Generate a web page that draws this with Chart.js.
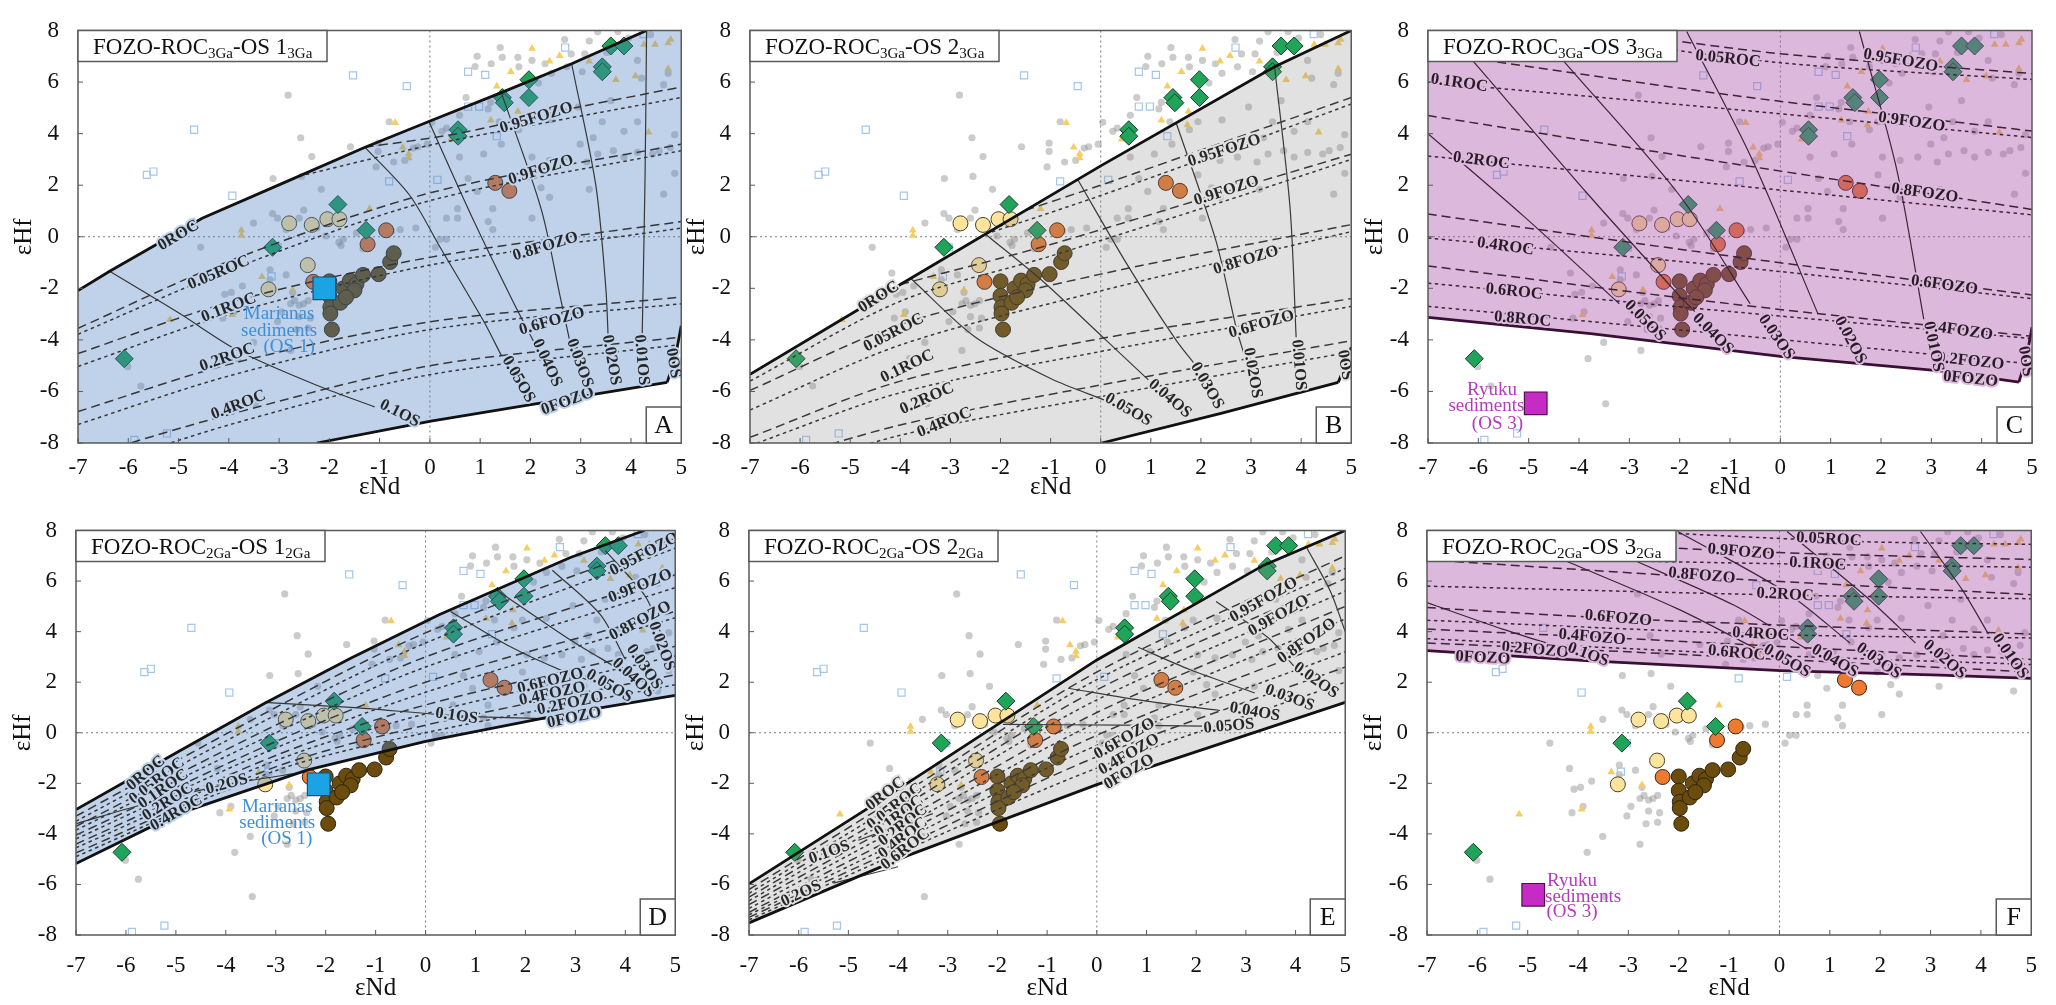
<!DOCTYPE html>
<html>
<head>
<meta charset="utf-8">
<title>FOZO-ROC-OS mixing models</title>
<script src="https://cdn.jsdelivr.net/npm/chart.js@4.4.1/dist/chart.umd.min.js"></script>
<style>
  html, body { margin: 0; padding: 0; background: #fff; }
  body { width: 2056px; height: 1005px; position: relative; overflow: hidden; }
  .panel { position: absolute; }
</style>
</head>
<body>
<div class="panel" style="left:0;top:0;width:700px;height:500px"><canvas id="cA"></canvas></div>
<div class="panel" style="left:680px;top:0;width:690px;height:500px"><canvas id="cB"></canvas></div>
<div class="panel" style="left:1358px;top:0;width:698px;height:500px"><canvas id="cC"></canvas></div>
<div class="panel" style="left:0;top:500px;width:700px;height:505px"><canvas id="cD"></canvas></div>
<div class="panel" style="left:680px;top:500px;width:690px;height:505px"><canvas id="cE"></canvas></div>
<div class="panel" style="left:1358px;top:500px;width:698px;height:505px"><canvas id="cF"></canvas></div>
<script>
// ---- sample data (eNd, eHf), same in every panel ----
var greyDots = [
  [-2.82,5.49],[-2.57,3.84],[-2.35,3.11],[-3.12,2.26],[-2.55,2.34],[-2.16,1.84],[-1.58,3.49],[-1.03,3.63],[-1.03,3.31],[-0.81,4.46],
  [-1.07,2.71],[-0.72,2.9],[-0.5,2.96],[-0.33,3.44],[-0.24,3.49],[0.04,4.44],[-0.05,3.59],[0.24,4.09],[0.33,4.21],[0.59,3.09],
  [0.59,4.71],[0.72,5.4],[0.9,6.6],[0.94,7.0],[1.22,6.71],[1.4,7.34],[1.44,6.96],[1.75,6.96],[1.77,6.59],[2.03,6.84],
  [2.16,5.96],[2.29,6.71],[2.42,6.34],[2.73,6.59],[2.68,7.65],[2.81,7.09],[3.03,6.4],[3.08,7.09],[3.17,7.59],[3.34,7.95],
  [3.52,7.15],[3.74,7.95],[3.95,7.71],[4.13,6.84],[4.21,6.15],[4.39,7.84],[4.65,5.9],[4.74,6.34],[3.6,5.28],[2.95,5.03],
  [1.94,4.46],[2.42,4.53],[1.77,4.15],[1.38,4.46],[1.16,4.96],[1.21,5.21],[2.38,2.96],[2.73,3.09],[3.12,2.9],[3.34,3.21],
  [3.65,3.34],[3.86,3.09],[4.13,3.27],[4.43,3.21],[4.56,3.34],[4.87,3.96],[4.78,3.46],[4.13,4.46],[3.86,4.09],[3.43,4.46],
  [3.25,3.84],[2.99,3.59],[1.94,2.4],[2.03,3.09],[1.42,3.59],[1.07,3.21],[0.76,2.26],[0.94,1.76],[1.25,1.09],[0.55,1.09],
  [0.33,0.72],[0.55,0.72],[1.16,0.59],[1.25,0.28],[2.03,0.72],[2.21,1.9],[2.38,1.53],[3.17,1.84],[4.65,1.65],[4.87,2.46],
  [-3.51,0.53],[-3.13,0.9],[-3.03,0.72],[-2.86,0.28],[-2.73,0.53],[-2.6,0.72],[-2.51,1.03],[-2.25,0.34],[-2.07,0.03],[-1.77,-0.34],
  [-1.72,-0.1],[-1.46,0.15],[-0.76,0.22],[-0.59,0.28],[-0.28,0.34],[0.11,-0.41],[0.33,-0.1],[0.2,-0.1],[-4.56,-0.41],[-4.17,-1.41],
  [-3.95,-2.16],[-4.08,-2.23],[-3.73,-1.91],[-3.18,-1.28],[-3.26,-1.91],[-3.18,-1.66],[-2.86,-1.48],[-2.73,-2.16],[-2.69,-2.48],[-2.6,-2.66],
  [-2.51,-2.6],[-2.42,-2.48],[-2.77,-2.6],[-2.95,-2.91],[-2.6,-3.1],[-2.38,-3.16],[-2.65,-3.6],[-2.42,-3.54],[-3.03,-3.29],[-4.12,-3.16],
  [-3.9,-2.91],[-3.51,-4.1],[-2.77,-4.41],[-3.82,-4.73],[-3.47,-6.48],[-5.75,-5.79],[-6.01,-5.04],[-1.33,-0.47],[-1.81,-0.22]
];
var blueSquares = [
  [-4.69,4.15],[-5.63,2.4],[-5.5,2.53],[-3.93,1.59],[-1.53,6.26],[-0.46,5.84],[-0.81,2.15],[0.15,2.21],[0.76,6.4],[1.1,6.28],
  [0.76,5.05],[0.98,5.05],[1.33,3.9],[2.69,7.34],[4.25,7.86],[-3.15,-1.54],[-3.03,-0.41],[-5.23,-7.63],[-5.88,-7.88]
];
var yellowTriangles = [
  [-3.75,0.25],[-3.75,0.05],[-3.34,-1.55],[-2.73,-2.07],[-3.93,-3.03],[-5.17,-3.22],[-1.2,1.09],[-0.69,4.42],[-0.54,3.47],[-0.42,3.21],
  [-0.42,3.05],[0.42,3.78],[1.33,5.84],[1.61,6.4],[1.75,4.86],[1.21,4.52],[1.73,4.33],[2.03,7.3],[2.38,6.81],[2.58,7.02],
  [3.17,6.81],[3.7,6.09],[4.09,6.24],[4.35,4.05],[4.26,7.46],[4.48,7.46],[4.74,7.52],[4.79,7.65],[4.74,6.52]
];
var greenDiamonds = [
  [-6.08,-4.73],[-3.13,-0.41],[-1.83,1.25],[-1.27,0.25],[0.56,4.15],[0.56,3.9],[1.44,5.4],[1.48,5.2],[1.97,6.09],[1.97,5.4],
  [3.43,6.59],[3.43,6.4],[3.6,7.4],[3.86,7.4]
];
var creamCircles = [[-2.8,0.52],[-2.35,0.46],[-2.04,0.68],[-1.8,0.68],[-2.43,-1.1],[-3.21,-2.04]];
var orangeCircles = [[-0.87,0.25],[-1.24,-0.29],[-2.32,-1.75],[1.3,2.09],[1.58,1.78]];
var brownCircles = [
  [-2.0,-1.73],[-2.0,-2.29],[-1.98,-2.73],[-1.98,-2.98],[-1.95,-3.6],[-1.72,-2.0],[-1.78,-2.56],[-1.59,-1.7],
  [-1.46,-1.83],[-1.5,-2.08],[-1.33,-1.48],[-1.02,-1.45],[-0.79,-0.98],[-0.72,-0.64],[-1.67,-2.35]
];
var marianasA = [[-2.1,-2.0]];
var marianasD = [[-2.14,-2.04]];
var ryukuC = [[-4.86,-6.46]];
var ryukuF = [[-4.89,-6.41]];
var xTicks = [-7,-6,-5,-4,-3,-2,-1,0,1,2,3,4,5];
var yTicks = [-8,-6,-4,-2,0,2,4,6,8];

// ---- panel A: FOZO-ROC3Ga-OS1 ----
var aTop = [[-7,-2.09],[-6.37,-1.34],[-4.53,0.72],[-2.9,2.1],[-1.29,3.47],[-0.02,4.47],[1.42,5.59],[2.82,6.71],[4.31,8]];
var aRight = [[5,-3.45],[4.88,-4.7],[4.72,-5.65]];
var aBottom = [[4.72,-5.65],[1.95,-6.53],[0.02,-7.15],[-2.25,-8]];
var aLong = [
  [[-1.29,3.47],[0.55,4.0],[2.5,4.85],[5,5.81]],
  [[-7,-3.55],[-4,-0.95],[0,1.7],[5,3.59]],
  [[-7,-4.53],[-4,-2.55],[0,-0.8],[5,0.59]],
  [[-7,-6.78],[-4,-4.95],[0,-3.3],[5,-2.34]],
  [[-7,-8.6],[-4,-6.9],[0,-5.0],[4.95,-3.9]]
];
var aShort = [
  [[-2.6,2.35],[0,3.55],[2.5,4.5],[5,5.4]],
  [[-7,-3.78],[-4,-1.3],[0,1.4],[5,3.34]],
  [[-7,-5.03],[-4,-3.0],[0,-1.1],[5,0.34]],
  [[-7,-7.28],[-4,-5.4],[0,-3.6],[5,-2.6]],
  [[-7,-9.2],[-4,-7.3],[0,-5.35],[4.92,-4.2]]
];
var aOS = [
  [[-6.37,-1.34],[-5.0,-2.95],[-3.83,-4.4],[-2.2,-5.8],[-1.1,-6.6]],
  [[-1.29,3.47],[-0.4,1.6],[0.2,-0.4],[1.07,-3.28],[1.42,-4.6]],
  [[-0.02,4.47],[0.9,0.5],[1.65,-2.5],[2.1,-4.2]],
  [[1.42,5.59],[2.21,1.1],[2.6,-2.4],[2.8,-4.2]],
  [[2.82,6.71],[3.3,2.0],[3.5,-2.0],[3.55,-4.1]],
  [[4.31,8],[4.28,2.3],[4.22,-4.1]]
];
var aLabels = [
  ['0ROC',-5.0,0.05,-31],['0.05ROC',-4.2,-1.4,-23],['0.1ROC',-4.0,-2.75,-21],['0.2ROC',-4.03,-4.68,-20],['0.4ROC',-3.81,-6.53,-21],
  ['0.95FOZO',2.12,4.61,-17],['0.9FOZO',2.21,2.59,-18],['0.8FOZO',2.3,-0.38,-17],['0.6FOZO',2.43,-3.28,-16],['0FOZO',2.74,-6.38,-20],
  ['0.1OS',-0.6,-6.85,27],['0.05OS',1.76,-5.53,60],['0.04OS',2.33,-4.9,65],['0.03OS',2.98,-4.9,70],['0.02OS',3.61,-4.78,80],
  ['0.01OS',4.21,-4.78,85],['0OS',4.84,-4.9,80]
];

// ---- panel B: FOZO-ROC3Ga-OS2 ----
var bTop = [[-7,-5.34],[-4,-1.85],[0,2.75],[3.47,6.59],[5,8]];
var bRight = [[5,-4.28],[4.88,-5.0],[4.74,-5.65]];
var bBottom = [[4.74,-5.65],[2.4,-6.85],[0.02,-8]];
var bLong = [
  [[-1.5,1.03],[0,2.0],[2.5,3.7],[5,5.4]],
  [[-4,-1.85],[-1,-0.3],[2.5,1.75],[5,3.2]],
  [[-7,-5.96],[-4,-3.4],[0,-1.45],[5,0.47]],
  [[-7,-7.78],[-4,-5.6],[0,-3.95],[5,-2.4]],
  [[-7,-9.0],[-4,-7.3],[0,-5.75],[4.95,-4.05]]
];
var bShort = [
  [[-2.3,0.1],[0,1.6],[2.5,3.35],[5,5.15]],
  [[-7,-5.6],[-4,-2.5],[-1,-0.75],[2.5,1.4],[5,3.0]],
  [[-7,-6.72],[-4,-4.2],[0,-2.1],[5,0.2]],
  [[-7,-8.1],[-4,-6.05],[0,-4.45],[5,-2.7]],
  [[-7,-9.5],[-4,-7.7],[0,-6.2],[4.9,-4.5]]
];
var bOS = [
  [[-3.8,-1.6],[-2.5,-3.9],[-1.0,-5.5],[0.1,-6.35]],
  [[-2.3,0.1],[-1.2,-1.65],[0.1,-4.0],[0.95,-5.55]],
  [[-0.46,2.22],[0.55,-1.15],[1.5,-4.0],[1.9,-5.0]],
  [[1.5,4.45],[2.3,-0.16],[2.7,-3.5],[2.85,-4.5]],
  [[3.47,6.59],[3.78,1.09],[3.9,-3.9]]
];
var bLabels = [
  ['0ROC',-4.43,-2.34,-33],['0.05ROC',-4.13,-3.72,-28],['0.1ROC',-3.86,-5.03,-26],['0.2ROC',-3.47,-6.28,-24],['0.4ROC',-3.12,-7.21,-22],
  ['0.95FOZO',2.47,3.34,-18],['0.9FOZO',2.51,1.78,-18],['0.8FOZO',2.9,-0.91,-17],['0.6FOZO',3.21,-3.4,-16],
  ['0.05OS',0.55,-6.71,30],['0.04OS',1.38,-6.28,40],['0.03OS',2.12,-5.78,60],['0.02OS',3.03,-5.28,80],['0.01OS',3.95,-4.97,85],['0OS',4.87,-4.97,80]
];

// ---- panel C: FOZO-ROC3Ga-OS3 ----
var cBottom = [[-7,-3.13],[-3.77,-3.76],[0,-4.64],[3.17,-5.2],[4.74,-5.64]];
var cRight = [[4.74,-5.64],[4.9,-4.6],[5,-3.51]];
var cLong = [
  [[-3.6,8.0],[0,7.1],[5,6.33]],
  [[-7,7.17],[-1,5.5],[5,4.1]],
  [[-7,4.7],[-1,2.85],[5,1.06]],
  [[-7,0.88],[-1,-0.75],[5,-2.26]],
  [[-7,-1.13],[-1,-2.6],[4.95,-3.85]]
];
var cShort = [
  [[-5,8.0],[0,6.75],[5,6.1]],
  [[-7,6.0],[-1,4.95],[5,3.85]],
  [[-7,3.13],[-1,2.0],[5,0.85]],
  [[-7,-0.05],[-1,-1.15],[5,-2.4]],
  [[-7,-1.8],[-1,-2.9],[5,-3.95]],
  [[-7,-2.7],[-1,-3.8],[4.8,-4.9]]
];
var cOS = [
  [[-7,4.0],[-5.1,0.8],[-3.2,-2.6]],
  [[-6.1,6.8],[-3.8,1.6],[-2.0,-2.3],[-1.7,-2.9]],
  [[-4.3,6.8],[-2.0,1.6],[-0.6,-2.6]],
  [[-1.86,7.96],[-0.56,3.0],[0.75,-3.0]],
  [[1.57,7.96],[2.31,2.63],[2.85,-3.2]]
];
var cLabels = [
  ['0.05ROC',-1.04,6.9,6],['0.1ROC',-6.38,5.96,8],['0.2ROC',-5.94,2.95,7],['0.4ROC',-5.46,-0.38,8],['0.6ROC',-5.29,-2.13,6],['0.8ROC',-5.12,-3.2,5],
  ['0.95FOZO',2.39,6.83,10],['0.9FOZO',2.61,4.45,8],['0.8FOZO',2.87,1.69,8],['0.6FOZO',3.26,-1.88,8],['0.4FOZO',3.56,-3.64,8],
  ['0.2FOZO',3.78,-4.83,6],['0FOZO',3.78,-5.52,6],
  ['0.05OS',-2.69,-3.26,45],['0.04OS',-1.34,-3.76,45],['0.03OS',-0.08,-3.89,55],['0.02OS',1.39,-4.01,62],['0.01OS',3.04,-4.26,78],['0OS',4.87,-4.83,80]
];

// ---- panel D: FOZO-ROC2Ga-OS1 ----
var dTop = [[-7,-3.04],[-5,-0.8],[-3.23,1.16],[-1.5,2.95],[0.27,4.67],[2.9,6.93],[4.38,8]];
var dBottom = [[-7,-5.17],[-4.99,-3.23],[-2.36,-1.47],[0,-0.34],[2.9,0.79],[5,1.48]];
var dLong = [
  [[-7,-3.3],[-3,1.0],[0,3.95],[5,7.7]],
  [[-7,-3.7],[-3,0.3],[0,3.0],[5,6.25]],
  [[-7,-4.05],[-3,-0.35],[0,2.0],[5,4.8]],
  [[-7,-4.4],[-3,-0.9],[0,1.1],[5,3.42]],
  [[-7,-4.75],[-3,-1.35],[0,0.3],[5,2.3]]
];
var dShort = [
  [[-7,-3.5],[-3,0.7],[0,3.55],[5,7.3]],
  [[-7,-3.85],[-3,0.0],[0,2.6],[5,5.74]],
  [[-7,-4.2],[-3,-0.6],[0,1.6],[5,4.55]],
  [[-7,-4.55],[-3,-1.1],[0,0.75],[5,3.04]],
  [[-7,-4.9],[-3,-1.5],[0,0.0],[5,1.9]]
];
var dOS = [
  [[-3.23,1.2],[-1.5,1.0],[0.6,0.68],[2.4,0.55]],
  [[-7,-3.6],[-5.5,-2.75],[-4,-2.05],[-2.4,-1.55]],
  [[0.5,4.8],[1.7,3.4],[2.8,2.4],[3.4,2.0]],
  [[1.4,5.68],[2.9,3.67],[3.8,2.6]],
  [[2.54,6.43],[3.5,4.67],[4.0,2.9]],
  [[3.6,7.2],[4.4,5.4],[4.7,4.0]]
];
var dLabels = [
  ['0ROC',-5.6,-1.6,-40],['0.05ROC',-5.38,-1.91,-38],['0.1ROC',-5.25,-2.23,-35],['0.2ROC',-5.16,-2.73,-33],['0.4ROC',-4.99,-3.17,-30],
  ['0.2OS',-3.98,-2.04,-15],['0.1OS',0.62,0.66,8],
  ['0.95FOZO',4.38,7.06,-28],['0.9FOZO',4.3,5.8,-22],['0.8FOZO',4.3,4.42,-28],['0.6FOZO',2.5,2.04,-14],['0.4FOZO',2.54,1.54,-12],
  ['0.2FOZO',2.9,1.16,-12],['0FOZO',2.98,0.6,-12],
  ['0.05OS',3.68,1.85,30],['0.04OS',4.16,2.17,42],['0.03OS',4.38,2.6,55],['0.02OS',4.73,3.42,70]
];

// ---- panel E: FOZO-ROC2Ga-OS2 ----
var eTop = [[-7,-5.98],[-3.81,-1.99],[0,2.88],[3.36,6.63],[5,8]];
var eBottom = [[-7,-7.52],[-3.81,-4.86],[0,-2.05],[5,1.2]];
var eLong = [
  [[-7,-6.2],[-3.81,-2.3],[0,2.4],[5,7.0]],
  [[-7,-6.5],[-3.81,-2.8],[0,1.7],[5,6.1]],
  [[-7,-6.8],[-3.81,-3.35],[0,0.8],[5,5.0]],
  [[-7,-7.1],[-3.81,-3.9],[0,-0.1],[5,3.8]],
  [[-7,-7.3],[-3.81,-4.4],[0,-0.95],[5,2.6]]
];
var eShort = [
  [[-7,-6.35],[-3.81,-2.55],[0,2.1],[5,6.5]],
  [[-7,-6.65],[-3.81,-3.05],[0,1.3],[5,5.6]],
  [[-7,-6.95],[-3.81,-3.6],[0,0.4],[5,4.5]],
  [[-7,-7.2],[-3.81,-4.15],[0,-0.5],[5,3.2]],
  [[-7,-7.4],[-3.81,-4.6],[0,-1.4],[5,2.0]]
];
var eOS = [
  [[4.23,7.3],[4.7,5.6],[5.0,4.0]],
  [[2.4,5.19],[3.45,3.76],[3.97,2.63]],
  [[0.83,3.38],[1.87,2.5],[3.18,1.57]],
  [[-0.58,1.76],[1.0,1.25],[2.48,0.88]],
  [[-1.89,0.33],[0.5,0.3],[2.13,0.26]],
  [[-3.3,-3.2],[-4.1,-3.75],[-4.8,-4.25]],
  [[-4.0,-5.3],[-5.3,-5.95]]
];
var eLabels = [
  ['0ROC',-4.25,-2.42,-38],['0.05ROC',-4.07,-2.92,-38],['0.1ROC',-3.98,-3.3,-38],['0.2ROC',-3.9,-3.67,-38],['0.4ROC',-3.9,-4.17,-38],['0.6ROC',-3.85,-4.61,-38],
  ['0.1OS',-5.38,-4.73,-20],['0.2OS',-5.95,-6.36,-25],
  ['0.95FOZO',3.36,5.25,-30],['0.9FOZO',3.66,4.63,-30],['0.8FOZO',4.23,3.63,-35],['0.6FOZO',0.56,-0.24,-30],['0.4FOZO',0.65,-0.86,-30],['0FOZO',0.65,-1.55,-30],
  ['0.02OS',4.41,2.07,35],['0.03OS',3.88,1.38,20],['0.04OS',3.18,0.82,10],['0.05OS',2.66,0.26,-5]
];

// ---- panel F: FOZO-ROC2Ga-OS3 ----
var fBottom = [[-7,3.25],[-3.76,2.84],[0.02,2.46],[3.19,2.28],[5,2.15]];
var fLong = [
  [[-7,7.9],[-1,7.2],[5,6.85]],
  [[-7,6.84],[-1.5,6.15],[5,5.46]],
  [[-7,4.95],[-3,4.5],[5,3.9]],
  [[-7,4.1],[-3,3.72],[5,2.9]],
  [[-7,3.55],[-3,3.2],[5,2.4]]
];
var fShort = [
  [[-7,8.4],[1,7.6],[5,7.45]],
  [[-7,6.95],[1,6.65],[5,6.55]],
  [[-7,5.8],[0,5.45],[5,5.3]],
  [[-7,4.45],[0,3.88],[5,3.75]],
  [[-7,3.72],[0,3.05],[5,2.7]]
];
var fOS = [
  [[-7,5.15],[-5.5,4.1],[-4.3,3.35]],
  [[-4.37,6.9],[-2.02,4.9],[-0.35,3.2]],
  [[-2.98,6.9],[-0.89,5.03],[0.55,3.3]],
  [[-2.02,7.96],[0.15,5.53],[1.4,3.55]],
  [[0.15,7.96],[1.71,5.4],[2.7,3.55]],
  [[2.8,7.96],[3.63,5.65],[4.15,3.9]]
];
var fLabels = [
  ['0.05ROC',0.98,7.65,3],['0.1ROC',0.76,6.68,3],['0.2ROC',0.11,5.46,3],['0.4ROC',-0.37,3.9,3],['0.6ROC',-0.85,3.15,5],
  ['0.9FOZO',-0.76,7.15,5],['0.8FOZO',-1.54,6.21,5],['0.6FOZO',-3.2,4.53,5],['0.4FOZO',-3.72,3.78,5],['0.2FOZO',-4.85,3.28,5],['0FOZO',-5.89,2.96,3],
  ['0.1OS',-3.8,3.09,20],['0.05OS',0.15,2.84,30],['0.04OS',1.1,2.84,30],['0.03OS',1.97,2.84,35],['0.02OS',3.28,2.9,40],['0.01OS',4.58,3.03,55]
];

// ---- sediment annotations ----
var marianasTextA = [['Marianas',-3.0,-3.0],['sediments',-3.0,-3.65],['(OS 1)',-2.8,-4.28]];
var marianasTextD = [['Marianas',-2.97,-2.93],['sediments',-2.97,-3.58],['(OS 1)',-2.78,-4.2]];
var ryukuTextC = [['Ryuku',-5.73,-5.96],['sediments',-5.84,-6.58],['(OS 3)',-5.62,-7.25]];
var ryukuTextF = [['Ryuku',-4.12,-5.85],['sediments',-3.9,-6.48],['(OS 3)',-4.12,-7.1]];

var SERIF = '"Liberation Serif", "Times New Roman", serif';

function pts(arr) {
  return arr.map(function(p) { return {x: p[0], y: p[1]}; });
}

function markerSet(arr, style, radius, bg, border, bw, order) {
  return {
    data: pts(arr), showLine: false, pointStyle: style, pointRadius: radius,
    pointBackgroundColor: bg, pointBorderColor: border, pointBorderWidth: bw,
    backgroundColor: bg, borderColor: border, order: order
  };
}

function lineSet(arr, color, width, dash, tension, order) {
  return {
    data: pts(arr), showLine: true, borderColor: color, borderWidth: width,
    borderDash: dash, pointRadius: 0, fill: false, tension: tension, order: order
  };
}

// frame, inner ticks, zero lines, curve labels and boxes
var decor = {
  id: 'decor',
  beforeDatasetsDraw: function(chart) {
    var ctx = chart.ctx, a = chart.chartArea;
    var x0 = chart.scales.x.getPixelForValue(0), y0 = chart.scales.y.getPixelForValue(0);
    ctx.save();
    ctx.strokeStyle = '#7a7a7a';
    ctx.lineWidth = 1;
    ctx.setLineDash([2, 3]);
    ctx.beginPath();
    ctx.moveTo(x0, a.top); ctx.lineTo(x0, a.bottom);
    ctx.moveTo(a.left, y0); ctx.lineTo(a.right, y0);
    ctx.stroke();
    ctx.restore();
  },
  afterDatasetsDraw: function(chart, args, o) {
    var ctx = chart.ctx, a = chart.chartArea, sx = chart.scales.x, sy = chart.scales.y;
    ctx.save();
    ctx.beginPath();
    ctx.rect(a.left, a.top, a.right - a.left, a.bottom - a.top);
    ctx.clip();

    // curve labels
    ctx.font = 'bold 16.5px ' + SERIF;
    ctx.textAlign = 'center';
    ctx.textBaseline = 'middle';
    ctx.lineJoin = 'round';
    o.labels.forEach(function(l) {
      ctx.save();
      ctx.translate(sx.getPixelForValue(l[1]), sy.getPixelForValue(l[2]));
      ctx.rotate(l[3] * Math.PI / 180);
      ctx.lineWidth = 4;
      ctx.strokeStyle = o.halo;
      ctx.strokeText(l[0], 0, 0);
      ctx.fillStyle = o.ink;
      ctx.fillText(l[0], 0, 0);
      ctx.restore();
    });

    // sediment text
    ctx.font = '19px ' + SERIF;
    ctx.fillStyle = o.sedColor;
    o.sedText.forEach(function(t) {
      ctx.fillText(t[0], sx.getPixelForValue(t[1]), sy.getPixelForValue(t[2]));
    });
    ctx.restore();

    // frame and inner ticks
    ctx.save();
    ctx.strokeStyle = '#5a5a5a';
    ctx.lineWidth = 1.5;
    ctx.strokeRect(a.left, a.top, a.right - a.left, a.bottom - a.top);
    ctx.lineWidth = 1;
    ctx.beginPath();
    xTicks.forEach(function(v) {
      var px = sx.getPixelForValue(v);
      ctx.moveTo(px, a.bottom); ctx.lineTo(px, a.bottom - 5);
    });
    yTicks.forEach(function(v) {
      var py = sy.getPixelForValue(v);
      ctx.moveTo(a.left, py); ctx.lineTo(a.left + 5, py);
    });
    ctx.stroke();

    // title box with subscripts
    ctx.fillStyle = '#fff';
    ctx.fillRect(a.left, a.top, 249, 31);
    ctx.lineWidth = 1.5;
    ctx.strokeRect(a.left, a.top, 249, 31);
    var x = a.left + 15, base = a.top + 23;
    ctx.textAlign = 'left';
    ctx.textBaseline = 'alphabetic';
    ctx.fillStyle = '#111';
    o.title.forEach(function(t, i) {
      var sub = i % 2 === 1;
      ctx.font = (sub ? '15px ' : '23px ') + SERIF;
      ctx.fillText(t, x, base + (sub ? 4 : 0));
      x += ctx.measureText(t).width;
    });

    // panel letter
    ctx.fillStyle = '#fff';
    ctx.fillRect(a.right - 35, a.bottom - 36, 35, 36);
    ctx.strokeRect(a.right - 35, a.bottom - 36, 35, 36);
    ctx.fillStyle = '#111';
    ctx.font = '26px ' + SERIF;
    ctx.textAlign = 'center';
    ctx.textBaseline = 'middle';
    ctx.fillText(o.letter, a.right - 17.5, a.bottom - 17);
    ctx.restore();
  }
};

function makePanel(p) {
  var datasets = [
    markerSet(greyDots, 'circle', 3.6, 'rgba(140,140,140,0.45)', 'rgba(0,0,0,0)', 0, 100),
    markerSet(blueSquares, 'rect', 5, 'rgba(255,255,255,0)', '#a3c6ec', 1.2, 99),
    markerSet(yellowTriangles, 'triangle', 4.5, '#f6cd63', 'rgba(0,0,0,0)', 0, 98),
    markerSet(brownCircles, 'circle', 7.5, '#6b4c0c', '#2c2410', 1, 90),
    markerSet(orangeCircles, 'circle', 7.5, '#ec7a30', '#3a2412', 1, 89),
    markerSet(creamCircles, 'circle', 7.5, '#fde49c', '#4a4028', 1, 88),
    markerSet(greenDiamonds, 'rectRot', 9, '#1fa45a', '#163d28', 1, 87),
    {
      data: pts(p.region), showLine: true, fill: 'shape', tension: 0,
      backgroundColor: p.fill, borderColor: 'rgba(0,0,0,0)', borderWidth: 1, pointRadius: 0, order: 50
    }
  ];
  p.long.forEach(function(l) { datasets.push(lineSet(l, p.dash, 1.5, [9, 5], 0.3, 40)); });
  p.short.forEach(function(l) { datasets.push(lineSet(l, p.dash, 1.5, [3.5, 3.5], 0.3, 40)); });
  p.os.forEach(function(l) { datasets.push(lineSet(l, p.dash, 1.2, [], 0.3, 30)); });
  p.bold.forEach(function(l) { datasets.push(lineSet(l, p.boldColor, 2.8, [], 0, 20)); });
  datasets.push(markerSet(p.sed, 'rect', 16, p.sedFill, p.sedBorder, 1.2, 5));

  new Chart(document.getElementById(p.canvas).getContext('2d'), {
    type: 'line',
    data: { datasets: datasets },
    options: {
      responsive: true,
      maintainAspectRatio: false,
      animation: false,
      events: [],
      devicePixelRatio: 1,
      layout: { padding: { left: 0, right: p.padRight, top: p.padTop, bottom: 0 } },
      plugins: {
        legend: { display: false },
        tooltip: { enabled: false },
        decor: {
          labels: p.labels, halo: p.halo, ink: p.ink, title: p.title, letter: p.letter,
          sedText: p.sedText, sedColor: p.sedColor
        }
      },
      scales: {
        x: {
          type: 'linear', position: 'bottom', min: -7, max: 5,
          grid: { display: false, drawTicks: false },
          border: { display: false },
          ticks: {
            stepSize: 1, autoSkip: false, maxRotation: 0, padding: p.xTickPad, color: '#111',
            font: { family: SERIF, size: 23, lineHeight: 1 },
            callback: function(v) { return String(v); }
          },
          title: {
            display: true, text: 'εNd', color: '#111',
            font: { family: SERIF, size: 25, lineHeight: 1 },
            padding: { top: 0, bottom: p.xTitlePad }
          },
          afterFit: function(s) { s.height = p.xAxisH; }
        },
        y: {
          type: 'linear', min: -8, max: 8,
          grid: { display: false, drawTicks: false },
          border: { display: false },
          ticks: {
            stepSize: 2, autoSkip: false, padding: 19, color: '#111',
            font: { family: SERIF, size: 23, lineHeight: 1 },
            callback: function(v) { return String(v); }
          },
          title: {
            display: true, text: 'εHf', color: '#111',
            font: { family: SERIF, size: 25, lineHeight: 1 },
            padding: { top: p.yTitlePad, bottom: 0 }
          },
          afterFit: function(s) { s.width = p.yAxisW; }
        }
      }
    },
    plugins: [decor]
  });
}

var blueFill = 'rgba(75,126,195,0.35)', greyFill = 'rgba(135,135,135,0.25)', pinkFill = 'rgba(167,80,167,0.4)';
var marStyle = { sedFill: '#1ba3e3', sedBorder: '#1e4f7a', sedColor: '#3f8fd6' };
var ryuStyle = { sedFill: '#c62bc6', sedBorder: '#4b1245', sedColor: '#b43cbb' };

var topRow = { padTop: 16, xAxisH: 57, xTickPad: 13, xTitlePad: 0 };
var bottomRow = { padTop: 12, xAxisH: 70, xTickPad: 19, xTitlePad: 4.5 };

function merge() {
  var out = {};
  for (var i = 0; i < arguments.length; i++) {
    for (var k in arguments[i]) out[k] = arguments[i][k];
  }
  return out;
}

makePanel(merge(topRow, marStyle, {
  canvas: 'cA', letter: 'A', title: ['FOZO-ROC', '3Ga', '-OS 1', '3Ga'],
  yAxisW: 78, padRight: 18, yTitlePad: 12,
  fill: blueFill, halo: '#c0d3ea', ink: '#262626', dash: '#363636', boldColor: '#111',
  region: aTop.concat([[5, 8]], aRight, aBottom.slice(1), [[-7, -8]]),
  bold: [aTop, aRight, aBottom], long: aLong, short: aShort, os: aOS, labels: aLabels,
  sed: marianasA, sedText: marianasTextA
}));

makePanel(merge(topRow, marStyle, {
  canvas: 'cB', letter: 'B', title: ['FOZO-ROC', '3Ga', '-OS 2', '3Ga'],
  yAxisW: 70, padRight: 16, yTitlePad: 4.5,
  fill: greyFill, halo: '#e1e1e1', ink: '#262626', dash: '#3a3a3a', boldColor: '#111',
  region: bTop.concat(bRight, bBottom.slice(1), [[-7, -8]]),
  bold: [bTop, bRight, bBottom], long: bLong, short: bShort, os: bOS, labels: bLabels,
  sed: [], sedText: []
}));

makePanel(merge(topRow, ryuStyle, {
  canvas: 'cC', letter: 'C', title: ['FOZO-ROC', '3Ga', '-OS 3', '3Ga'],
  yAxisW: 70, padRight: 24, yTitlePad: 4.5,
  fill: pinkFill, halo: '#dbbadb', ink: '#2a1a28', dash: '#3d2438', boldColor: '#3b0f33',
  region: [[-7, 8], [5, 8]].concat(cRight.slice().reverse(), cBottom.slice(0, -1).reverse()),
  bold: [cBottom, cRight], long: cLong, short: cShort, os: cOS, labels: cLabels,
  sed: ryukuC, sedText: ryukuTextC
}));

makePanel(merge(bottomRow, marStyle, {
  canvas: 'cD', letter: 'D', title: ['FOZO-ROC', '2Ga', '-OS 1', '2Ga'],
  yAxisW: 76, padRight: 21, yTitlePad: 10.5,
  fill: blueFill, halo: '#c0d3ea', ink: '#262626', dash: '#363636', boldColor: '#111',
  region: dTop.concat([[5, 8]], dBottom.slice().reverse()),
  bold: [dTop, dBottom], long: dLong, short: dShort, os: dOS, labels: dLabels,
  sed: marianasD, sedText: marianasTextD
}));

makePanel(merge(bottomRow, marStyle, {
  canvas: 'cE', letter: 'E', title: ['FOZO-ROC', '2Ga', '-OS 2', '2Ga'],
  yAxisW: 69, padRight: 16, yTitlePad: 3.5,
  fill: greyFill, halo: '#e1e1e1', ink: '#262626', dash: '#3a3a3a', boldColor: '#111',
  region: eTop.concat(eBottom.slice().reverse()),
  bold: [eTop, eBottom], long: eLong, short: eShort, os: eOS, labels: eLabels,
  sed: [], sedText: []
}));

makePanel(merge(bottomRow, ryuStyle, {
  canvas: 'cF', letter: 'F', title: ['FOZO-ROC', '2Ga', '-OS 3', '2Ga'],
  yAxisW: 69, padRight: 24, yTitlePad: 3.5,
  fill: pinkFill, halo: '#dbbadb', ink: '#2a1a28', dash: '#3d2438', boldColor: '#3b0f33',
  region: [[-7, 8], [5, 8]].concat(fBottom.slice().reverse()),
  bold: [fBottom], long: fLong, short: fShort, os: fOS, labels: fLabels,
  sed: ryukuF, sedText: ryukuTextF
}));
</script>
</body>
</html>
